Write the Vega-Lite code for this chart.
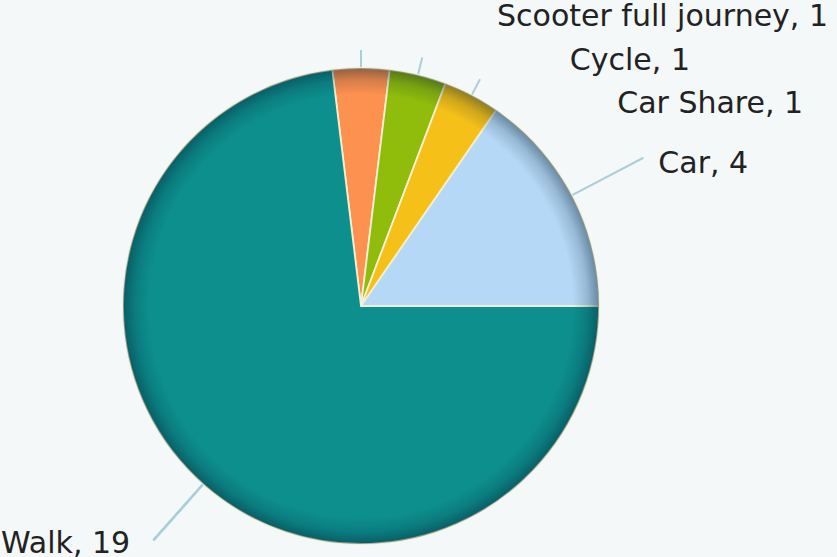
{
  "$schema": "https://vega.github.io/schema/vega-lite/v6.json",
  "width": 722,
  "height": 500,
  "autosize": {"type": "none"},
  "padding": {"left": 0, "top": 56, "right": 115, "bottom": 1},
  "background": "#f4f8f9",
  "config": {
    "view": {"stroke": null, "fill": {"gradient": "linear", "x1": 0, "y1": 0, "x2": 0, "y2": 1, "stops": [{"offset": 0, "color": "#f5f9fa"}, {"offset": 1, "color": "#e8eff2"}]}}
  },
  "data": {
    "values": [
      {"idx": 1, "mode": "Scooter full journey", "value": 1, "label": "Scooter full journey, 1"},
      {"idx": 2, "mode": "Cycle", "value": 1, "label": "Cycle, 1"},
      {"idx": 3, "mode": "Car Share", "value": 1, "label": "Car Share, 1"},
      {"idx": 4, "mode": "Car", "value": 4, "label": "Car, 4"},
      {"idx": 5, "mode": "Walk", "value": 19, "label": "Walk, 19"}
    ]
  },
  "layer": [
    {
      "mark": {"type": "arc", "radius": 238, "stroke": "#f3efd2", "strokeWidth": 1.8},
      "encoding": {
        "theta": {"field": "value", "type": "quantitative", "stack": true, "scale": {"range": [-0.12083, 6.16236]}},
        "order": {"field": "idx", "type": "quantitative"},
        "color": {"field": "mode", "type": "nominal", "legend": null,
          "scale": {"domain": ["Scooter full journey", "Cycle", "Car Share", "Car", "Walk"],
                    "range": ["#fd914f", "#90bc0c", "#f5c118", "#b4d8f6", "#0d8f8e"]}}
      }
    },
    {
      "transform": [{"aggregate": [{"op": "sum", "field": "value", "as": "total"}]}],
      "mark": {"type": "arc", "radius": 238,
        "fill": {"gradient": "radial", "x1": 0.5, "y1": 0.5, "x2": 0.5, "y2": 0.5, "r1": 0, "r2": 0.5,
          "stops": [
            {"offset": 0, "color": "rgba(0,25,45,0)"},
            {"offset": 0.89, "color": "rgba(0,25,45,0)"},
            {"offset": 0.95, "color": "rgba(0,25,45,0.16)"},
            {"offset": 1, "color": "rgba(0,25,45,0.42)"}
          ]}},
      "encoding": {
        "theta": {"field": "total", "type": "quantitative", "stack": true}
      }
    },
    {
      "mark": {"type": "arc", "radius": 319, "radius2": 239, "padAngle": 3.1416, "fill": null, "stroke": "#a9cfda", "strokeWidth": 2},
      "encoding": {
        "theta": {"field": "value", "type": "quantitative", "stack": true},
        "order": {"field": "idx", "type": "quantitative"},
        "strokeOpacity": {"condition": {"test": "datum.mode === 'Car'", "value": 1}, "value": 0}
      }
    },
    {
      "mark": {"type": "arc", "radius": 256, "radius2": 239, "padAngle": 3.1416, "fill": null, "stroke": "#a9cfda", "strokeWidth": 2},
      "encoding": {
        "theta": {"field": "value", "type": "quantitative", "stack": true},
        "order": {"field": "idx", "type": "quantitative"},
        "strokeOpacity": {"condition": {"test": "datum.mode !== 'Car' && datum.mode !== 'Walk'", "value": 1}, "value": 0}
      }
    },
    {
      "mark": {"type": "arc", "radius": 313, "radius2": 239, "fill": null, "stroke": "#a9cfda", "strokeWidth": 2},
      "encoding": {
        "theta": {"datum": 16.5, "type": "quantitative"},
        "theta2": {"datum": 16.5}
      }
    },
    {
      "mark": {"type": "text", "radius": 250, "align": "left", "baseline": "alphabetic", "dx": 136, "dy": -30, "font": "DejaVu Sans", "fontSize": 30, "color": "#222222"},
      "encoding": {
        "theta": {"field": "value", "type": "quantitative", "stack": true},
        "order": {"field": "idx", "type": "quantitative"},
        "text": {"condition": {"test": "datum.mode === 'Scooter full journey'", "field": "label"}, "value": ""}
      }
    },
    {
      "mark": {"type": "text", "radius": 250, "align": "left", "baseline": "alphabetic", "dx": 149, "dy": 7, "font": "DejaVu Sans", "fontSize": 30, "color": "#222222"},
      "encoding": {
        "theta": {"field": "value", "type": "quantitative", "stack": true},
        "order": {"field": "idx", "type": "quantitative"},
        "text": {"condition": {"test": "datum.mode === 'Cycle'", "field": "label"}, "value": ""}
      }
    },
    {
      "mark": {"type": "text", "radius": 250, "align": "left", "baseline": "alphabetic", "dx": 140, "dy": 28, "font": "DejaVu Sans", "fontSize": 30, "color": "#222222"},
      "encoding": {
        "theta": {"field": "value", "type": "quantitative", "stack": true},
        "order": {"field": "idx", "type": "quantitative"},
        "text": {"condition": {"test": "datum.mode === 'Car Share'", "field": "label"}, "value": ""}
      }
    },
    {
      "mark": {"type": "text", "radius": 250, "align": "left", "baseline": "alphabetic", "dx": 76, "dy": -17, "font": "DejaVu Sans", "fontSize": 30, "color": "#222222"},
      "encoding": {
        "theta": {"field": "value", "type": "quantitative", "stack": true},
        "order": {"field": "idx", "type": "quantitative"},
        "text": {"condition": {"test": "datum.mode === 'Car'", "field": "label"}, "value": ""}
      }
    },
    {
      "mark": {"type": "text", "radius": 250, "align": "right", "baseline": "alphabetic", "dx": -65, "dy": 60, "font": "DejaVu Sans", "fontSize": 30, "color": "#222222"},
      "encoding": {
        "theta": {"field": "value", "type": "quantitative", "stack": true},
        "order": {"field": "idx", "type": "quantitative"},
        "text": {"condition": {"test": "datum.mode === 'Walk'", "field": "label"}, "value": ""}
      }
    }
  ]
}
